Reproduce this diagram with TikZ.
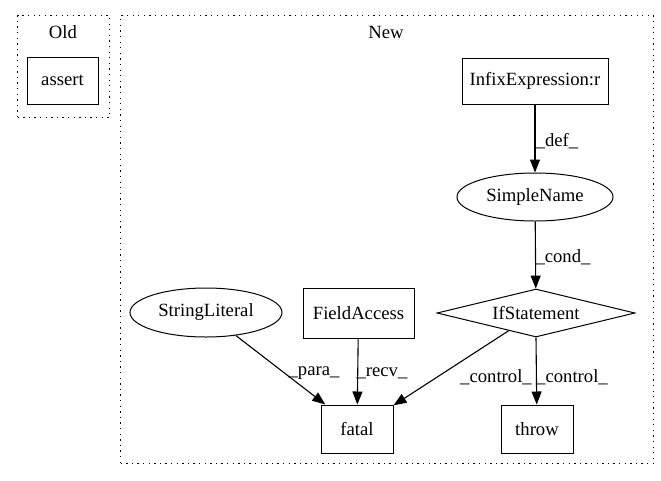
\documentclass[tikz,border=0pt]{standalone}
\usepackage{fontspec}
\setmainfont{Liberation Serif}
\usetikzlibrary{arrows.meta,shapes.geometric}
\newcommand\gvfont{\fontsize{18.67pt}{22pt}\selectfont}
\begin{document}
\begin{tikzpicture}[x=1pt,y=-1pt,
  every node/.style={font=\gvfont},
  box/.style={draw,line width=1pt,rectangle,inner sep=0pt},
  ell/.style={draw,line width=1pt,ellipse,inner sep=0pt},
  dia/.style={draw,line width=1pt,diamond,aspect=4.1,inner sep=0pt},
  cluster/.style={draw,line width=1.2pt,dash pattern=on 1.3pt off 4.3pt},
  edge/.style={line width=1.1pt,-{Triangle[length=13pt,width=10pt]}},
  lbl/.style={font=\gvfont,inner sep=0pt}]
\useasboundingbox (0,0) rectangle (661,480);
% clusters
\node[cluster,minimum width=92pt,minimum height=102pt,anchor=north west] (oldc) at (17,15) {};
\node[lbl] (oldl) at (63,32) {Old};
\node[cluster,minimum width=533pt,minimum height=448pt,anchor=north west] (newc) at (120,15) {};
\node[lbl] (newl) at (386,32) {New};
% nodes
\node[box,minimum width=71pt,minimum height=47pt] (assert) at (62.5,80.5) {assert};
\node[box,minimum width=146pt,minimum height=46pt] (infix) at (535,81) {InfixExpression:r};
\node[ell,minimum width=156pt,minimum height=48pt] (simple) at (535,197) {SimpleName};
\node[dia,minimum width=198pt,minimum height=48pt] (ifs) at (536,313) {IfStatement};
\node[ell,minimum width=152pt,minimum height=49pt] (sl) at (206,312.5) {StringLiteral};
\node[box,minimum width=111pt,minimum height=50pt] (fa) at (358.5,313) {FieldAccess};
\node[box,minimum width=72pt,minimum height=48pt] (fatal) at (357,429) {fatal};
\node[box,minimum width=72pt,minimum height=48pt] (throw) at (537,429) {throw};
% edges
\draw[edge] (infix) -- (simple);
\node[lbl] (l1) at (557,141) {\_def\_};
\draw[edge] (simple) -- (ifs);
\node[lbl] (l2) at (563,257) {\_cond\_};
\draw[edge] (sl) -- (fatal);
\node[lbl] (l3) at (314,373) {\_para\_};
\draw[edge] (fa) -- (fatal);
\node[lbl] (l4) at (382,373) {\_recv\_};
\draw[edge] (ifs) -- (fatal);
\node[lbl] (l5) at (496,377) {\_control\_};
\draw[edge] (ifs.south) -- (throw);
\node[lbl] (l6) at (572,377) {\_control\_};
\end{tikzpicture}
\end{document}
